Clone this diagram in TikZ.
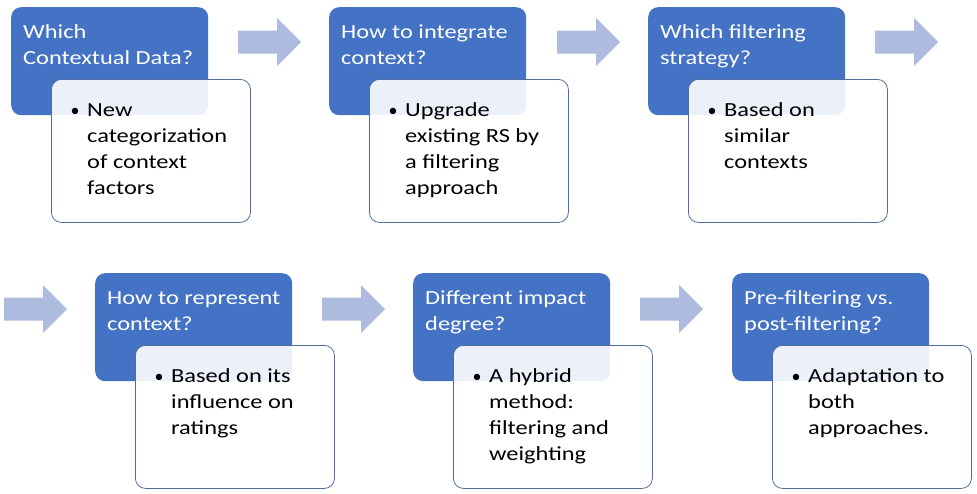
\documentclass[tikz,border=0pt]{standalone}
\usepackage{fontspec}
\setmainfont{Carlito}
\definecolor{boxblue}{HTML}{4472C4}
\definecolor{arrowblue}{HTML}{ADBBDE}
\definecolor{edgeblue}{HTML}{4F6E9C}
\newcommand\stagelines[1]{\scalebox{1.22}[1]{\parbox[t]{160pt}{\raggedright\fontsize{20}{26}\selectfont #1}}}
\tikzset{
  titlebox/.style={draw=none, fill=boxblue, rounded corners=10pt, minimum width=197pt,
    minimum height=108pt, anchor=north west, inner sep=0pt},
  detailbox/.style={draw=edgeblue, line width=0.8pt, fill=white, fill opacity=0.9,
    rounded corners=10pt, minimum width=199pt, minimum height=143pt, anchor=north west, inner sep=0pt},
  titletext/.style={anchor=base west, inner sep=0pt, text=white},
  detailtext/.style={anchor=base west, inner sep=0pt, text=black},
  bulletmark/.style={anchor=base, inner sep=0pt, text=black, font=\fontsize{18}{20}\selectfont},
  blockarrow/.pic={\fill[arrowblue] (0,-11.5) -- (39,-11.5) -- (39,-24) -- (63,0) -- (39,24) -- (39,11.5) -- (0,11.5) -- cycle;}
}
\newcommand\placestage[5]{%
  \node[titlebox] (t#1) at (#2,#3) {};
  \node[titletext] (tt#1) at ([shift={(12,31)}]t#1.north west) {\stagelines{#4}};
  \node[detailbox] (d#1) at ([shift={(40,72)}]t#1.north west) {};
  \node[bulletmark] (b#1) at ([shift={(24,37)}]d#1.north west) {\textbullet};
  \node[detailtext] (dt#1) at ([shift={(36,37)}]d#1.north west) {\stagelines{#5}};
}
\begin{document}
\begin{tikzpicture}[x=1pt,y=-1pt]
\useasboundingbox[fill=white] (0,0) rectangle (977,493);
\placestage{1}{11}{7}{Which\\Contextual Data?}{New\\categorization\\of context\\factors}
\placestage{2}{329}{7}{How to integrate\\context?}{Upgrade\\existing RS by\\a filtering\\approach}
\placestage{3}{648}{7}{Which filtering\\strategy?}{Based on\\similar\\contexts}
\placestage{4}{95}{273}{How to represent\\context?}{Based on its\\influence on\\ratings}
\placestage{5}{413}{273}{Different impact\\degree?}{A hybrid\\method:\\filtering and\\weighting}
\placestage{6}{732}{273}{Pre-filtering vs.\\post-filtering?}{Adaptation to\\both\\approaches.}
\pic (a1) at (238,42) {blockarrow};
\pic (a2) at (557,42) {blockarrow};
\pic (a3) at (875,42) {blockarrow};
\pic (a4) at (4,309) {blockarrow};
\pic (a5) at (322,309) {blockarrow};
\pic (a6) at (640,309) {blockarrow};
\end{tikzpicture}
\end{document}
